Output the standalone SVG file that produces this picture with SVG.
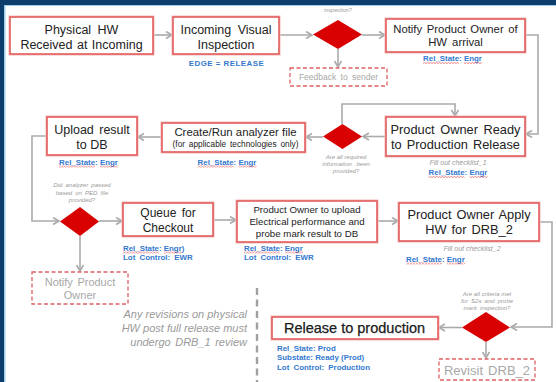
<svg xmlns="http://www.w3.org/2000/svg" width="556" height="382" viewBox="0 0 556 382">
  <defs>
    <style>
      .box { fill: #ffffff; stroke: #e05c5c; stroke-width: 1.6; }
      .halo { fill: none; stroke: #f6c4c4; stroke-width: 3.2; }
      .dbox { fill: #ffffff; stroke: #e06060; stroke-width: 1.3; stroke-dasharray: 4 2.5; }
      .dia { fill: #d80000; }
      .t { font-family: "Liberation Sans", Arial, sans-serif; fill: #222222; text-anchor: middle; }
      .blue { font-family: "Liberation Sans", Arial, sans-serif; fill: #3379d0; font-weight: bold; font-size: 7.9px; }
      .note { font-family: "Liberation Sans", Arial, sans-serif; fill: #9a9a9a; font-style: italic; }
      .ghost { font-family: "Liberation Sans", Arial, sans-serif; fill: #a8a8a8; text-anchor: middle; }
      .conn { fill: none; stroke: #aaaaaa; stroke-width: 1.6; }
      .sq { fill: url(#squiggle); }
    </style>
    <marker id="arrow" markerUnits="userSpaceOnUse" markerWidth="10" markerHeight="10" refX="7" refY="4" orient="auto">
      <path d="M1,0.5 L7,4 L1,7.5" fill="none" stroke="#aaaaaa" stroke-width="1.6"/>
    </marker>
    <!-- red wavy spell-check underline -->
    <pattern id="squiggle" patternUnits="userSpaceOnUse" width="3" height="2">
      <path d="M0,1.6 L1.5,0.4 L3,1.6" fill="none" stroke="#e03030" stroke-width="0.6"/>
    </pattern>
  </defs>

  <!-- slide background and panel -->
  <rect x="0" y="0" width="556" height="382" fill="#0d3d6b"/>
  <rect x="4" y="5" width="552" height="377" fill="#9fcbe6"/>
  <rect x="5.5" y="6" width="550.5" height="376" fill="#ffffff"/>

  <!-- connectors -->
  <g id="connectors" marker-end="url(#arrow)">
    <path class="conn" d="M153,35 H172"/>
    <path class="conn" d="M279,35 H312"/>
    <path class="conn" d="M362,35 H385"/>
    <path class="conn" d="M338,49 V67"/>
    <path class="conn" d="M525,35 H538 V134 H526"/>
    <path class="conn" d="M386,136.5 H363"/>
    <path class="conn" d="M342,124 V104 H455 V116"/>
    <path class="conn" d="M323,137 H306"/>
    <path class="conn" d="M162,137 H138"/>
    <path class="conn" d="M47,136 H32 V221 H59"/>
    <path class="conn" d="M99,221 H122"/>
    <path class="conn" d="M80,236 V271"/>
    <path class="conn" d="M213,220 H236"/>
    <path class="conn" d="M377,221 H398"/>
    <path class="conn" d="M539,222 H552 V327 H511"/>
    <path class="conn" d="M462,327.5 H439"/>
    <path class="conn" d="M486,342 V358"/>
  </g>

  <!-- dashed divider -->
  <path d="M257,288 V382" fill="none" stroke="#a0a0a0" stroke-width="2.4" stroke-dasharray="7 4.5"/>

  <g id="received">
    <rect class="halo" x="10" y="17" width="143" height="37"/>
    <rect class="box" x="10" y="17" width="143" height="37"/>
    <text class="t" font-size="12.5" x="81.5" y="33.5" word-spacing="3">Physical HW</text>
    <text class="t" font-size="12.5" x="81.5" y="48.5" word-spacing="1">Received at Incoming</text>
  </g>

  <g id="visual-inspection">
    <rect class="halo" x="173" y="17" width="106" height="37"/>
    <rect class="box" x="173" y="17" width="106" height="37"/>
    <text class="t" font-size="12.5" x="226" y="33.5" word-spacing="3">Incoming Visual</text>
    <text class="t" font-size="12.5" x="226" y="48.5">Inspection</text>
    <text class="blue" x="226.5" y="65.5" text-anchor="middle" font-size="7.2" letter-spacing="0.5">EDGE = RELEASE</text>
  </g>

  <g id="inspection-check">
    <text class="note" font-size="5.5" x="338" y="12" text-anchor="middle">inspection?</text>
    <polygon class="dia" points="338,20 362,34.5 338,49 313,34.5"/>
  </g>

  <g id="feedback">
    <rect class="dbox" x="290" y="68" width="97" height="18"/>
    <text class="ghost" font-size="8.5" x="338.5" y="80" word-spacing="2">Feedback to sender</text>
  </g>

  <g id="notify-owner">
    <rect class="halo" x="386" y="19" width="139" height="33"/>
    <rect class="box" x="386" y="19" width="139" height="33"/>
    <text class="t" font-size="11.3" x="455.5" y="32.5" word-spacing="1.5">Notify Product Owner of</text>
    <text class="t" font-size="11.3" x="455.5" y="46" word-spacing="2">HW arrival</text>
    <text class="blue" x="452.5" y="61" text-anchor="middle">Rel_State: Engr</text>
    <rect class="sq" x="423" y="62" width="36" height="2"/>
    <rect class="sq" x="464" y="62" width="18" height="2"/>
  </g>

  <g id="owner-ready">
    <rect class="halo" x="386" y="117" width="139" height="39"/>
    <rect class="box" x="386" y="117" width="139" height="39"/>
    <text class="t" font-size="12.8" x="455.5" y="133.5" word-spacing="2">Product Owner Ready</text>
    <text class="t" font-size="12.8" x="455.5" y="148.5" word-spacing="1.5">to Production Release</text>
    <text class="note" font-size="7" x="458" y="165" text-anchor="middle">Fill out checklist_1</text>
    <text class="blue" x="458" y="175" text-anchor="middle">Rel_State: Engr</text>
    <rect class="sq" x="428.5" y="176" width="36" height="2"/>
    <rect class="sq" x="469.5" y="176" width="18" height="2"/>
  </g>

  <g id="info-check">
    <polygon class="dia" points="342.5,124 362,136.5 342.5,149 323,136.5"/>
    <text class="note" font-size="6" x="346" y="159" text-anchor="middle">Are all required</text>
    <text class="note" font-size="6" x="346" y="166" text-anchor="middle" word-spacing="3">information been</text>
    <text class="note" font-size="6" x="346" y="173" text-anchor="middle">provided?</text>
  </g>

  <g id="analyzer">
    <rect class="halo" x="162" y="123" width="143" height="29"/>
    <rect class="box" x="162" y="123" width="143" height="29"/>
    <text class="t" font-size="11.4" x="235.5" y="136">Create/Run analyzer file</text>
    <text class="t" font-size="8.3" x="235.5" y="147" word-spacing="1.5">(for applicable technologies only)</text>
    <text class="blue" x="227" y="164.5" text-anchor="middle">Rel_State: Engr</text>
    <rect class="sq" x="197.5" y="165.5" width="36" height="2"/>
    <rect class="sq" x="238.5" y="165.5" width="18" height="2"/>
  </g>

  <g id="upload-result">
    <rect class="halo" x="47" y="117" width="90" height="38"/>
    <rect class="box" x="47" y="117" width="90" height="38"/>
    <text class="t" font-size="12.5" x="92" y="133.5" word-spacing="2">Upload result</text>
    <text class="t" font-size="12.5" x="92" y="149">to DB</text>
    <text class="blue" x="88.5" y="164.5" text-anchor="middle">Rel_State: Engr</text>
    <rect class="sq" x="59" y="165.5" width="36" height="2"/>
    <rect class="sq" x="100" y="165.5" width="18" height="2"/>
  </g>

  <g id="analyzer-check">
    <text class="note" font-size="6" x="82" y="187" text-anchor="middle" word-spacing="1.5">Did analyzer passed</text>
    <text class="note" font-size="6" x="82" y="194.5" text-anchor="middle" word-spacing="1.5">based on PED file</text>
    <text class="note" font-size="6" x="82" y="202" text-anchor="middle">provided?</text>
    <polygon class="dia" points="80,207 99,221.5 80,236 60,221.5"/>
  </g>

  <g id="notify-owner-2">
    <rect class="dbox" x="32" y="272" width="96" height="32"/>
    <text class="ghost" font-size="11" x="80" y="286" word-spacing="1.5">Notify Product</text>
    <text class="ghost" font-size="11" x="80" y="299">Owner</text>
  </g>

  <g id="queue-checkout">
    <rect class="halo" x="123" y="203" width="90" height="33"/>
    <rect class="box" x="123" y="203" width="90" height="33"/>
    <text class="t" font-size="12" x="168" y="217" word-spacing="2">Queue for</text>
    <text class="t" font-size="12" x="168" y="232">Checkout</text>
    <text class="blue" x="123" y="250.5">Rel_State: Engr)</text>
    <rect class="sq" x="123" y="251.5" width="36" height="2"/>
    <rect class="sq" x="164" y="251.5" width="18" height="2"/>
    <text class="blue" x="123" y="259.5" word-spacing="2">Lot Control: EWR</text>
  </g>

  <g id="owner-upload">
    <rect class="halo" x="237" y="201" width="140" height="41"/>
    <rect class="box" x="237" y="201" width="140" height="41"/>
    <text class="t" font-size="9.7" x="307" y="212.5">Product Owner to upload</text>
    <text class="t" font-size="9.7" x="307" y="224.5">Electrical performance and</text>
    <text class="t" font-size="9.7" x="307" y="236.5">probe mark result to DB</text>
    <text class="blue" x="244" y="250.5">Rel_State: Engr</text>
    <rect class="sq" x="244" y="251.5" width="36" height="2"/>
    <rect class="sq" x="285" y="251.5" width="18" height="2"/>
    <text class="blue" x="244" y="259.5" word-spacing="2">Lot Control: EWR</text>
  </g>

  <g id="owner-apply">
    <rect class="halo" x="399" y="203" width="140" height="38"/>
    <rect class="box" x="399" y="203" width="140" height="38"/>
    <text class="t" font-size="12.8" x="469" y="218.5" word-spacing="1.5">Product Owner Apply</text>
    <text class="t" font-size="12.8" x="469" y="233.5" word-spacing="1.5">HW for DRB_2</text>
    <text class="note" font-size="7" x="472" y="250.5" text-anchor="middle">Fill out checklist_2</text>
    <text class="blue" x="406" y="261.5">Rel_State: Engr</text>
    <rect class="sq" x="406" y="262.5" width="36" height="2"/>
    <rect class="sq" x="447" y="262.5" width="18" height="2"/>
  </g>

  <g id="criteria-check">
    <text class="note" font-size="6" x="487" y="296" text-anchor="middle">Are all criteria met</text>
    <text class="note" font-size="6" x="487" y="303" text-anchor="middle" word-spacing="1.5">for S2s and probe</text>
    <text class="note" font-size="6" x="487" y="310" text-anchor="middle" word-spacing="1.5">mark inspection?</text>
    <polygon class="dia" points="486,312 510,327.5 486,342 462,327.5"/>
  </g>

  <g id="release">
    <rect class="halo" x="272" y="317" width="166" height="22"/>
    <rect class="box" x="272" y="317" width="166" height="22"/>
    <text class="t" font-size="14.5" x="354.5" y="333" fill="#111111" stroke="#111111" stroke-width="0.25">Release to production</text>
    <text class="blue" x="277" y="350.5">Rel_State: Prod</text>
    <text class="blue" x="277" y="360">Substate: Ready (Prod)</text>
    <text class="blue" x="277" y="369.5" word-spacing="2">Lot Control: Production</text>
  </g>

  <g id="revisit">
    <rect class="dbox" x="439" y="359" width="96" height="21"/>
    <text class="ghost" font-size="13" x="487" y="374.5" word-spacing="1.5">Revisit DRB_2</text>
  </g>

  <g id="revision-note">
    <text class="note" font-size="11" x="247" y="317.5" text-anchor="end">Any revisions on physical</text>
    <text class="note" font-size="11" x="247" y="331.5" text-anchor="end">HW post full release must</text>
    <text class="note" font-size="11" x="247" y="345.5" text-anchor="end" word-spacing="1.5">undergo DRB_1 review</text>
  </g>
</svg>
